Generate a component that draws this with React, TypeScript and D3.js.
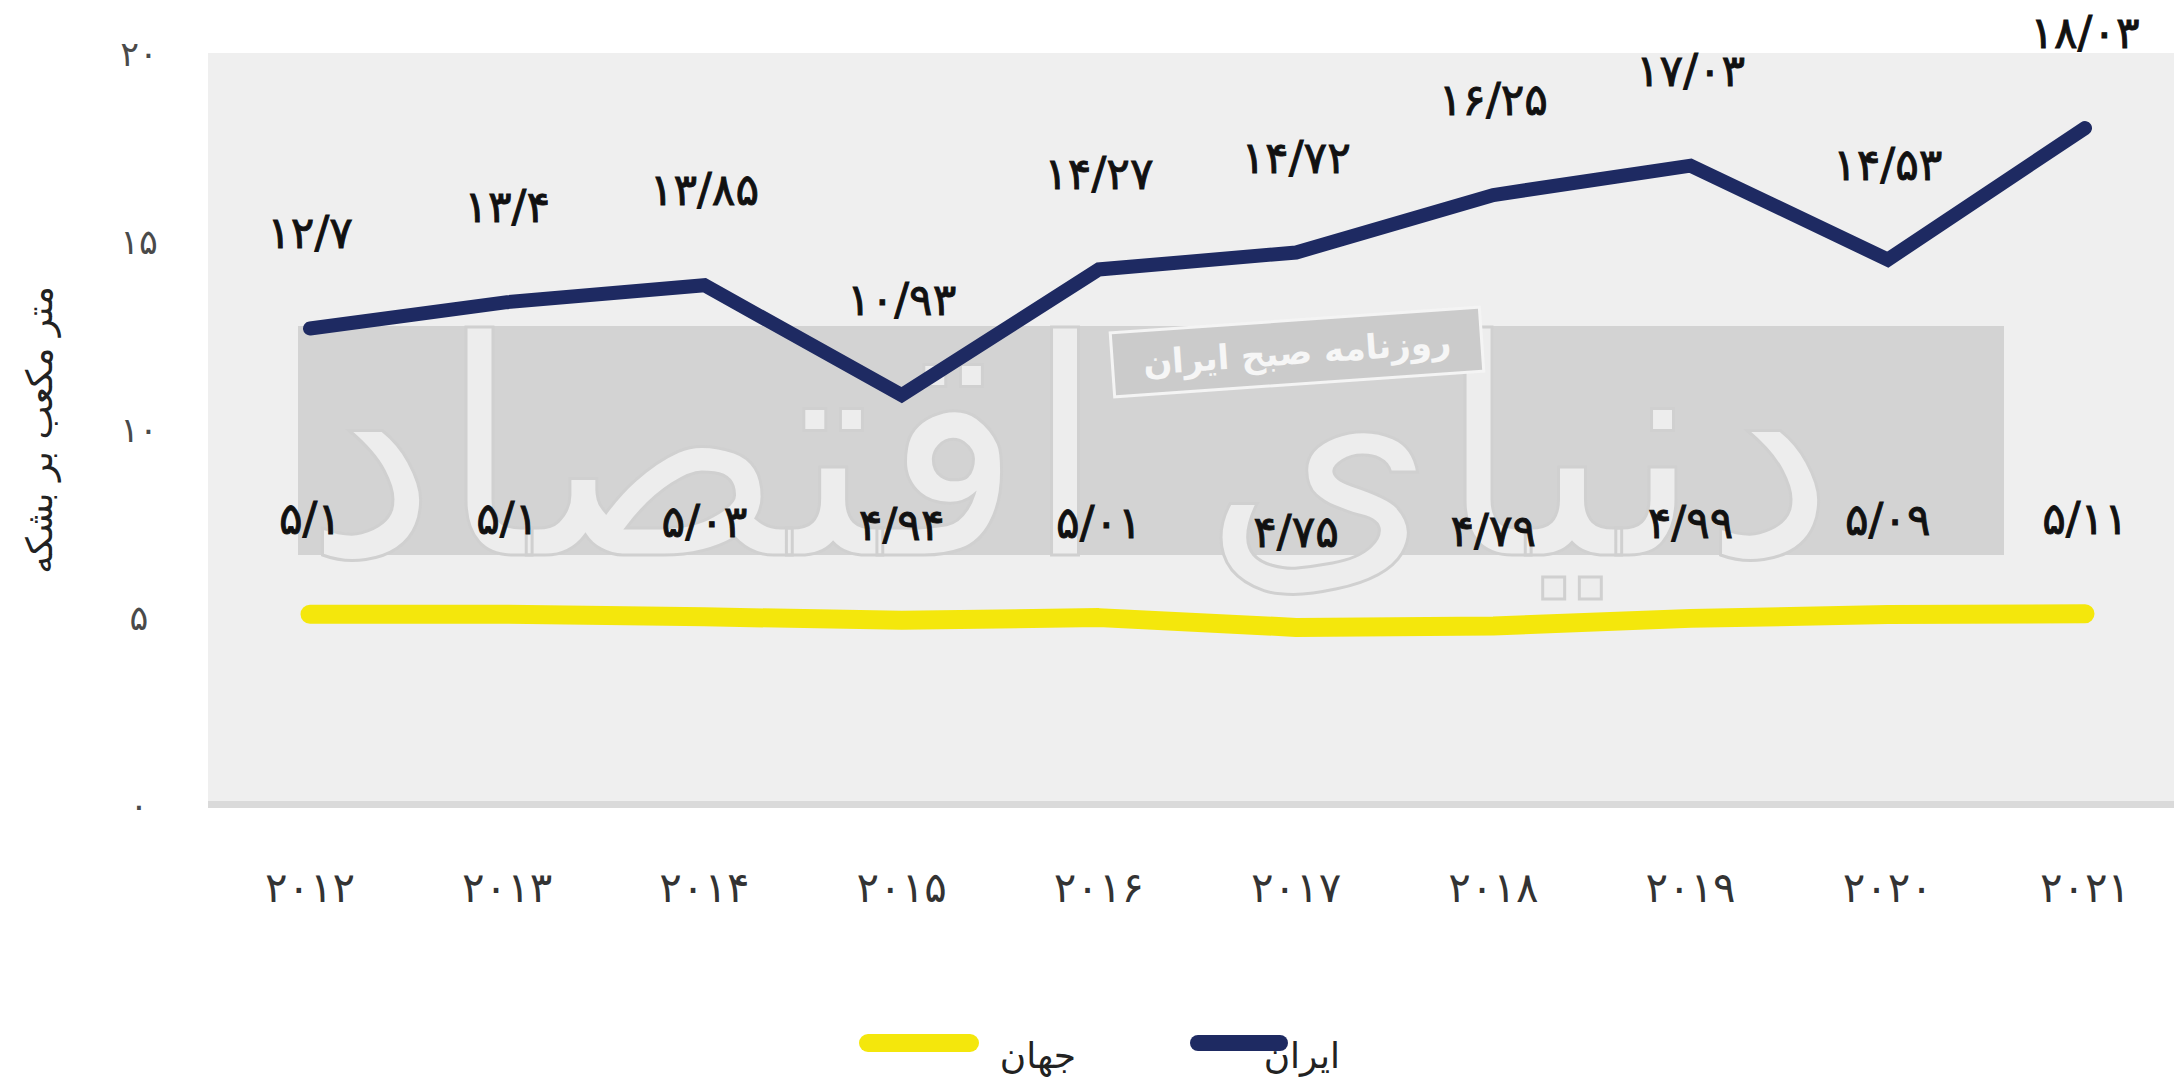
import React from 'react';
import * as d3 from 'd3';

const years = [2012, 2013, 2014, 2015, 2016, 2017, 2018, 2019, 2020, 2021];
const iranValues = [12.7, 13.4, 13.85, 10.93, 14.27, 14.72, 16.25, 17.03, 14.53, 18.03];
const worldValues = [5.1, 5.1, 5.03, 4.94, 5.01, 4.75, 4.79, 4.99, 5.09, 5.11];
const yTicks = [0, 5, 10, 15, 20];
const seriesNames = { iran: 'ایران', world: 'جهان' };
const yTitle = 'متر مکعب بر بشکه';
const watermark = 'دنیای اقتصاد';
const stamp = 'روزنامه صبح ایران';

const W = 2174;
const H = 1090;
const FONT = '"DejaVu Sans", "Noto Sans", sans-serif';
const NAVY = '#1e2a62';
const YELLOW = '#f4e70c';

// latin digits -> persian digits, decimal point -> slash
const fa = (v: number | string) =>
  String(v)
    .replace(/\d/g, d => '۰۱۲۳۴۵۶۷۸۹'[+d])
    .replace('.', '/');

export default function App() {
  const x = d3.scalePoint<number>().domain(years).range([310, 2085]);
  const y = d3.scaleLinear().domain([0, 20]).range([806, 54]);

  const line = d3
    .line<number>()
    .x((_, i) => x(years[i]) as number)
    .y(v => y(v));

  return (
    <svg
      width={W}
      height={H}
      viewBox={`0 0 ${W} ${H}`}
      style={{ position: 'absolute', left: 0, top: 0, background: '#fff' }}
    >
      {/* plot area */}
      <rect x={208} y={53} width={W - 208} height={754} fill="#efefef" />
      <rect x={208} y={801} width={W - 208} height={7} fill="#dadada" />

      {/* watermark */}
      <rect x={298} y={326} width={1706} height={229} fill="#d3d3d3" />
      <text
        x={1070}
        y={555}
        fontFamily={FONT}
        fontSize={300}
        textAnchor="middle"
        fill="#ededed"
        stroke="#d0d0d0"
        strokeWidth={3}
      >
        {watermark}
      </text>
      <g transform="translate(1297,352) rotate(-4)">
        <rect x={-185} y={-32} width={370} height={64} fill="#cbcbcb" stroke="#f4f4f4" strokeWidth={3} />
        <text
          y={12}
          fontFamily={FONT}
          fontSize={34}
          fontWeight="bold"
          textAnchor="middle"
          fill="#f6f6f6"
        >
          {stamp}
        </text>
      </g>

      {/* y axis */}
      {yTicks.map(t => (
        <text
          key={t}
          x={139}
          y={y(t) + 12}
          fontFamily={FONT}
          fontSize={35}
          textAnchor="middle"
          fill="#4a4a4a"
        >
          {fa(t)}
        </text>
      ))}
      <text
        transform="translate(52,430) rotate(-90)"
        fontFamily={FONT}
        fontSize={36}
        textAnchor="middle"
        fill="#222"
      >
        {yTitle}
      </text>

      {/* x axis */}
      {years.map(yr => (
        <text
          key={yr}
          x={x(yr)}
          y={902}
          fontFamily={FONT}
          fontSize={42}
          textAnchor="middle"
          fill="#333"
        >
          {fa(yr)}
        </text>
      ))}

      {/* series */}
      <path
        d={line(worldValues) || ''}
        fill="none"
        stroke={YELLOW}
        strokeWidth={19}
        strokeLinecap="round"
        strokeLinejoin="round"
      />
      <path
        d={line(iranValues) || ''}
        fill="none"
        stroke={NAVY}
        strokeWidth={14}
        strokeLinecap="round"
        strokeLinejoin="miter"
      />

      {[iranValues, worldValues].map((vals, s) =>
        vals.map((v, i) => (
          <text
            key={`${s}-${i}`}
            x={x(years[i])}
            y={y(v) - 80}
            fontFamily={FONT}
            fontSize={44}
            textAnchor="middle"
            fill="#111"
            stroke="#111"
            strokeWidth={0.9}
          >
            {fa(v)}
          </text>
        ))
      )}

      {/* legend */}
      <line x1={1198} x2={1280} y1={1043} y2={1043} stroke={NAVY} strokeWidth={16} strokeLinecap="round" />
      <text x={1340} y={1068} fontFamily={FONT} fontSize={36} textAnchor="end" fill="#222">
        {seriesNames.iran}
      </text>
      <line x1={868} x2={970} y1={1043} y2={1043} stroke={YELLOW} strokeWidth={18} strokeLinecap="round" />
      <text x={1076} y={1068} fontFamily={FONT} fontSize={36} textAnchor="end" fill="#222">
        {seriesNames.world}
      </text>
    </svg>
  );
}
